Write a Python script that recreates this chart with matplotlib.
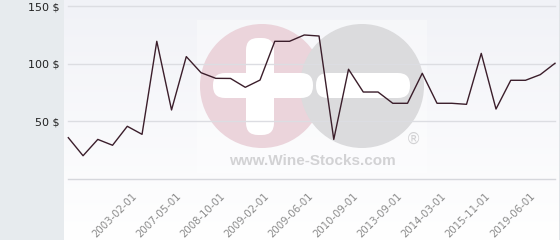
import matplotlib
matplotlib.use("Agg")
import matplotlib.pyplot as plt
import matplotlib.transforms as mtransforms
import numpy as np
from matplotlib.patches import Circle, FancyBboxPatch, Rectangle

prices = [35.5, 19.8, 34, 28.9, 45.4, 38.4, 119.3, 59.6, 106, 92, 87.1, 87,
          79.3, 85.6, 119.3, 119.3, 124.8, 123.9, 34, 95, 75.2, 75.2, 65.4,
          65.4, 91.5, 65.4, 65.4, 64.5, 108.8, 60.4, 85.4, 85.4, 90.3, 100.2]
label_index = [4, 7, 10, 13, 16, 19, 22, 25, 28, 31]
tick_labels = ["2003-02-01", "2007-05-01", "2008-10-01", "2009-02-01",
               "2009-06-01", "2010-09-01", "2013-09-01", "2014-03-01",
               "2015-11-01", "2019-06-01"]
y_ticks = [50, 100, 150]
y_tick_labels = ["50 $", "100 $", "150 $"]

W, H = 560, 240
fig = plt.figure(figsize=(W / 100, H / 100), dpi=100)
fig.patch.set_facecolor("#e7ebee")

# plot background with gradient
bg = fig.add_axes([64 / W, 0, (559 - 64) / W, 1])
grad = np.linspace(0, 1, 256).reshape(-1, 1)
c_top = np.array([0xf1, 0xf2, 0xf7]) / 255
c_bot = np.array([1.0, 1.0, 1.0])
img = c_top[None, None, :] * (1 - grad[..., None]) + c_bot[None, None, :] * grad[..., None]
img = np.clip(img, 0, 1)
bg.imshow(img, aspect="auto", extent=[0, 1, 0, 1], origin="upper")
bg.set_xlim(0, 1); bg.set_ylim(0, 1)
bg.axis("off")
fig.add_artist(plt.Line2D([559.5 / W, 559.5 / W], [0, 1], color="#c8c8cc", lw=1,
                          transform=fig.transFigure))

# watermark in pixel coordinates
wm = fig.add_axes([0, 0, 1, 1], facecolor="none")
wm.set_xlim(0, W); wm.set_ylim(H, 0)
wm.axis("off")
wm.add_patch(Rectangle((197, 20), 230, 153, color="white", alpha=0.35, lw=0))
wm.add_patch(Circle((262, 86), 62, color="#ebd4db", lw=0))
wm.add_patch(Circle((362, 86), 62, color="#dbdbdd", lw=0))
wm.add_patch(FancyBboxPatch((246 + 5, 38 + 5), 28 - 10, 97 - 10,
                            boxstyle="round,pad=5,rounding_size=12",
                            color="white", lw=0))
wm.add_patch(FancyBboxPatch((213 + 6, 73 + 6), 100 - 12, 25 - 12,
                            boxstyle="round,pad=6,rounding_size=12",
                            color="white", lw=0))
wm.add_patch(FancyBboxPatch((316 + 6, 73 + 6), 94 - 12, 25 - 12,
                            boxstyle="round,pad=6,rounding_size=12",
                            color="white", lw=0))
wm.text(413, 139, "®", fontsize=11, color="#d2d2d4", ha="center", va="center",
        family="DejaVu Sans")
wm.text(312.5, 161, "www.Wine-Stocks.com", fontsize=11, color="#d2d2d4",
        ha="center", va="center", fontweight="bold", family="Liberation Sans")

# data axes
x0, x1 = 68.3, 555.0
ax = fig.add_axes([x0 / W, (H - 178.5) / H, (x1 - x0) / W, 178.5 / H],
                  facecolor="none")
x = np.arange(len(prices))
ax.set_xlim(0, len(prices) - 1)
ax.set_ylim(0, 178.5 / 1.15)
for v in [0] + y_ticks:
    ax.axhline(v, color="#dcdde2" if v else "#d6d7dc", lw=1, clip_on=False, zorder=1)
ax.plot(x, prices, color="#3b1e2b", lw=1, zorder=3, clip_on=False)
for s in ax.spines.values():
    s.set_visible(False)
ax.set_yticks(y_ticks)
ax.set_yticklabels(y_tick_labels, fontsize=8, color="#222222", family="DejaVu Sans")
ax.tick_params(axis="y", length=0, pad=6)
ax.set_xticks(label_index)
ax.set_xticklabels(tick_labels, rotation=45, ha="right", rotation_mode="anchor",
                   fontsize=7.3, color="#8a8a8a")
ax.tick_params(axis="x", length=0, pad=9)
offset = mtransforms.ScaledTranslation(4 / 100, 0, fig.dpi_scale_trans)
for lbl in ax.get_xticklabels():
    lbl.set_transform(lbl.get_transform() + offset)

fig.savefig("out.png", dpi=100)
